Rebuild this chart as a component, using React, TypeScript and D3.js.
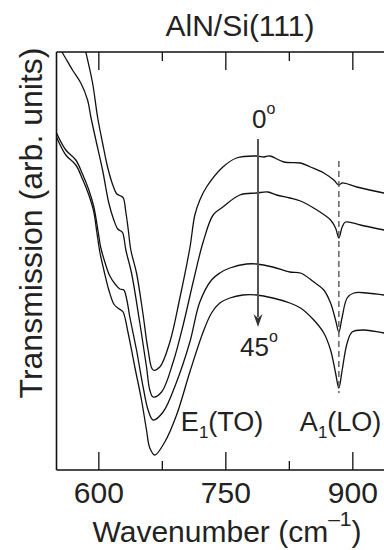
import React from "react";
import * as d3 from "d3";

// Wavenumber (cm^-1), transmission (arb. units)
const curve0: [number, number][] = [
  [581.1, 430], [584.6, 418], [592.6, 387], [598.5, 353], [604.4, 327], [610.3, 303],
  [616.5, 285], [621.3, 276], [626, 274], [628.9, 272], [631.9, 258], [634.8, 240],
  [637.8, 220], [644.5, 197], [652, 157], [658.2, 120], [664.1, 100], [672, 103],
  [683.9, 128], [695.7, 172], [707.5, 222], [713.4, 255], [719.3, 270], [727.2, 283],
  [746.5, 303], [762.6, 312], [786.3, 314], [795, 313], [802, 314], [818.5, 308],
  [838.2, 307], [850, 303], [865.7, 297], [877.5, 290], [883.5, 285], [887.4, 287],
  [904.7, 283], [936.6, 277], [949.6, 275],
];
const curve15: [number, number][] = [
  [551, 425], [557.1, 417], [568.9, 400], [578.7, 387], [586.7, 370], [590.6, 353],
  [596.5, 330], [604.4, 300], [611.8, 267], [617.7, 250], [622.4, 241], [626, 239],
  [628.3, 237], [630.1, 230], [631.9, 220], [638.6, 197], [648.4, 147], [656.3, 103],
  [660.2, 80], [664.1, 73], [674.1, 78], [687.8, 108], [699.6, 145], [711.4, 188],
  [723.2, 228], [735, 255], [746.5, 263], [766.5, 275], [786.3, 277], [799.6, 278],
  [809.9, 275], [825.6, 272], [838.2, 269], [857.5, 260], [873.7, 250], [879.6, 242],
  [883.5, 232], [887.4, 243], [891.4, 248], [909.1, 245], [936.6, 240], [949.6, 238],
];
const curve30: [number, number][] = [
  [550, 337], [561, 320], [572.8, 310], [580.7, 296], [588.2, 280], [594.1, 263],
  [598.5, 242], [602.4, 222], [607.1, 208], [613, 194], [620.1, 185], [624.8, 181],
  [629.5, 180], [633.1, 170], [636.6, 153], [644.5, 120], [652.3, 83], [658.2, 60],
  [664.1, 50], [675.9, 58], [691.8, 88], [707.5, 128], [719.3, 168], [733.1, 190],
  [742.9, 197], [754.7, 202], [774.4, 206], [786.3, 206], [805.5, 203], [825.6, 198],
  [838.2, 197], [853.9, 188], [865.7, 180], [873.7, 167], [879.6, 150], [883.5, 138],
  [887.4, 153], [893.3, 172], [901.2, 177], [916.9, 177], [936.6, 175], [949.6, 174],
];
const curve45: [number, number][] = [
  [550, 333], [561, 315], [572.8, 305], [580.7, 291], [588.2, 275], [594.1, 258],
  [597.6, 238], [601.2, 218], [605.9, 200], [611.8, 180], [617.7, 166], [622.4, 162],
  [626, 160], [628.7, 158], [634.6, 137], [642.5, 103], [650.4, 70], [656.3, 40],
  [660.2, 22], [666.1, 15], [677.9, 28], [691.8, 55], [707.5, 98], [723.2, 138],
  [733.1, 157], [742.9, 167], [754.7, 172], [770.1, 175], [786.3, 175], [805.5, 172],
  [825.6, 167], [838.2, 162], [853.9, 150], [865.7, 137], [873.7, 120], [879.6, 97],
  [883.5, 82], [887.4, 100], [893.3, 127], [899.2, 138], [913, 140], [936.6, 137],
  [949.6, 136],
];
const curves = [curve0, curve15, curve30, curve45];

const majorTicks = [600, 750, 900];
const minorTicks = [675, 825];
const tickLabels = ["600", "750", "900"];

const title = "AlN/Si(111)";
const xLabel = "Wavenumber (cm";
const yLabel = "Transmission (arb. units)";
const angleStart = "0";
const angleEnd = "45";
const peakTO = 665;
const peakLO = 883.5;
const arrowW = 788;
const arrowFrom = 331;
const arrowTo = 143;
const dashFrom = 309;
const dashTo = 77;

const FONT = "'Liberation Sans', Arial, Helvetica, sans-serif";

export default function App() {
  const W = 384;
  const H = 550;
  const left = 56.5;
  const top = 52;
  const bottom = 470;

  const x = d3.scaleLinear().domain([550, 950]).range([left, left + 400 * (254 / 300)]);
  const y = d3.scaleLinear().domain([0, 418]).range([bottom, top]);

  const line = d3
    .line<[number, number]>()
    .x((d) => x(d[0]))
    .y((d) => y(d[1]))
    .curve(d3.curveCatmullRom.alpha(0.5));

  const right = x(950);
  const ax = x(arrowW);

  return (
    <svg
      width={W}
      height={H}
      style={{ position: "absolute", left: 0, top: 0, background: "#fff" }}
      fontFamily={FONT}
    >
      <defs>
        <clipPath id="plotclip">
          <rect x={left} y={top} width={right - left} height={bottom - top} />
        </clipPath>
      </defs>
      <rect x={0} y={0} width={W} height={H} fill="#fff" />

      {/* curves */}
      <g clipPath="url(#plotclip)">
        {curves.map((c, i) => (
          <path key={i} d={line(c) || ""} fill="none" stroke="#111" strokeWidth={1.3} />
        ))}
      </g>

      {/* dashed LO line */}
      <line
        x1={x(peakLO)}
        x2={x(peakLO)}
        y1={y(dashFrom)}
        y2={y(dashTo)}
        stroke="#555"
        strokeWidth={1.4}
        strokeDasharray="6,4"
      />

      {/* arrow */}
      <line x1={ax} x2={ax} y1={y(arrowFrom)} y2={y(arrowTo) - 10} stroke="#555" strokeWidth={2} />
      <path
        d={`M${ax - 4.5},${y(arrowTo) - 13} L${ax},${y(arrowTo)} L${ax + 4.5},${y(arrowTo) - 13} L${ax},${y(arrowTo) - 9} Z`}
        fill="#333"
      />

      {/* frame */}
      <line x1={left} x2={right} y1={top} y2={top} stroke="#111" strokeWidth={1.6} />
      <line x1={left} x2={right} y1={bottom} y2={bottom} stroke="#111" strokeWidth={1.6} />
      <line x1={left} x2={left} y1={top} y2={bottom} stroke="#111" strokeWidth={1.6} />

      {/* ticks */}
      {majorTicks.map((t) => (
        <g key={"M" + t}>
          <line x1={x(t)} x2={x(t)} y1={bottom} y2={bottom - 18} stroke="#111" strokeWidth={1.3} />
          <line x1={x(t)} x2={x(t)} y1={top} y2={top + 18} stroke="#111" strokeWidth={1.3} />
        </g>
      ))}
      {minorTicks.map((t) => (
        <g key={"m" + t}>
          <line x1={x(t)} x2={x(t)} y1={bottom} y2={bottom - 9} stroke="#111" strokeWidth={1.3} />
          <line x1={x(t)} x2={x(t)} y1={top} y2={top + 9} stroke="#111" strokeWidth={1.3} />
        </g>
      ))}
      {majorTicks.map((t, i) => (
        <text key={"l" + t} x={x(t)} y={503} textAnchor="middle" fontSize={30} fill="#222">
          {tickLabels[i]}
        </text>
      ))}

      {/* title */}
      <text x={240} y={36} textAnchor="middle" fontSize={30} fill="#222">
        {title}
      </text>

      {/* x label */}
      <text x={227} y={542} textAnchor="middle" fontSize={30} fill="#222">
        {xLabel}
        <tspan fontSize={21} dy={-16}>
          {"\u20131"}
        </tspan>
        <tspan fontSize={30} dy={16}>
          {")"}
        </tspan>
      </text>

      {/* y label */}
      <text
        transform={`translate(42,${223}) rotate(-90)`}
        textAnchor="middle"
        fontSize={32}
        fill="#222"
      >
        {yLabel}
      </text>

      {/* angle labels */}
      <text x={ax - 6} y={128} fontSize={26} fill="#222">
        {angleStart}
        <tspan fontSize={16} dy={-14}>
          o
        </tspan>
      </text>
      <text x={ax - 18} y={356} fontSize={26} fill="#222">
        {angleEnd}
        <tspan fontSize={16} dy={-14}>
          o
        </tspan>
      </text>

      {/* mode labels */}
      <text x={x(peakTO) + 27} y={431} fontSize={27} fill="#222">
        E
        <tspan fontSize={17} dy={7}>
          1
        </tspan>
        <tspan dy={-7}>(TO)</tspan>
      </text>
      <text x={x(peakLO) - 39} y={431} fontSize={27} fill="#222">
        A
        <tspan fontSize={17} dy={7}>
          1
        </tspan>
        <tspan dy={-7}>(LO)</tspan>
      </text>
    </svg>
  );
}
